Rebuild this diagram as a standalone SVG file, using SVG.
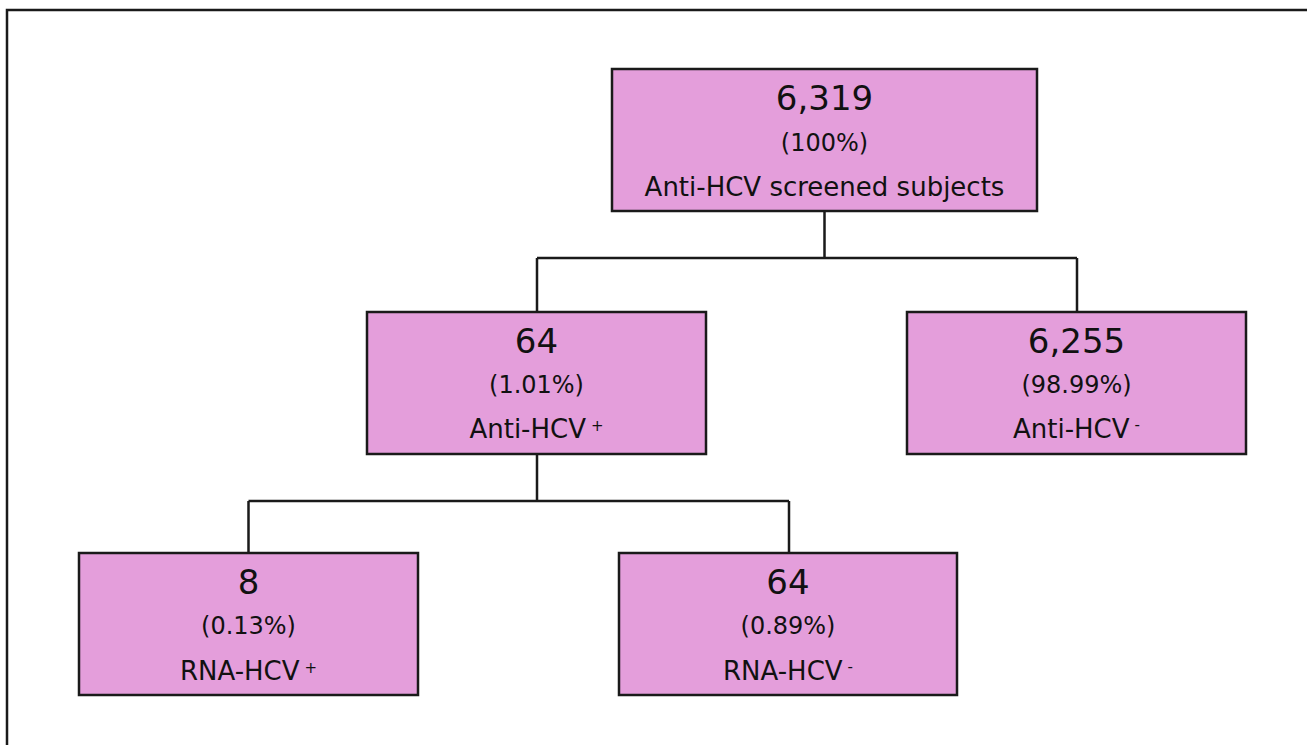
<svg xmlns="http://www.w3.org/2000/svg" width="1307" height="745" viewBox="0 0 1307 745">
<style>
.box{fill:#e49edb;stroke:#1a1a1a;stroke-width:2.5}
.conn{fill:none;stroke:#1a1a1a;stroke-width:2.5}
text{font-family:"DejaVu Sans","Liberation Sans",sans-serif;fill:#111;text-anchor:middle}
.num{font-size:34px}
.pct{font-size:24px}
.lbl{font-size:26px}
.sup{font-size:15px}
</style>
<rect width="1307" height="745" fill="#fff"/>
<path d="M7,745 V10 H1307" fill="none" stroke="#1a1a1a" stroke-width="2.5"/>
<g id="connectors">
<path class="conn" d="M824.5,211 V258 M537,258 H1077 M537,258 V312 M1077,258 V312"/>
<path class="conn" d="M537,454 V501 M248.5,501 H789 M248.5,501 V553 M789,501 V553"/>
</g>
<g id="node-total">
<rect class="box" x="612" y="69" width="425" height="142"/>
<text class="num" x="824.5" y="110">6,319</text>
<text class="pct" x="824.5" y="151">(100%)</text>
<text class="lbl" x="824.5" y="196">Anti-HCV screened subjects</text>
</g>
<g id="node-antihcv-pos">
<rect class="box" x="367" y="312" width="339" height="142"/>
<text class="num" x="536.5" y="353">64</text>
<text class="pct" x="536.5" y="393">(1.01%)</text>
<text class="lbl" x="536.5" y="438">Anti-HCV<tspan class="sup" dx="5" dy="-7">+</tspan></text>
</g>
<g id="node-antihcv-neg">
<rect class="box" x="907" y="312" width="339" height="142"/>
<text class="num" x="1076.5" y="353">6,255</text>
<text class="pct" x="1076.5" y="393">(98.99%)</text>
<text class="lbl" x="1076.5" y="438">Anti-HCV<tspan class="sup" dx="5" dy="-8">-</tspan></text>
</g>
<g id="node-rna-pos">
<rect class="box" x="79" y="553" width="339" height="142"/>
<text class="num" x="248.5" y="594">8</text>
<text class="pct" x="248.5" y="634">(0.13%)</text>
<text class="lbl" x="248.5" y="680">RNA-HCV<tspan class="sup" dx="5" dy="-7">+</tspan></text>
</g>
<g id="node-rna-neg">
<rect class="box" x="619" y="553" width="338" height="142"/>
<text class="num" x="788" y="594">64</text>
<text class="pct" x="788" y="634">(0.89%)</text>
<text class="lbl" x="788" y="680">RNA-HCV<tspan class="sup" dx="5" dy="-8">-</tspan></text>
</g>
</svg>
